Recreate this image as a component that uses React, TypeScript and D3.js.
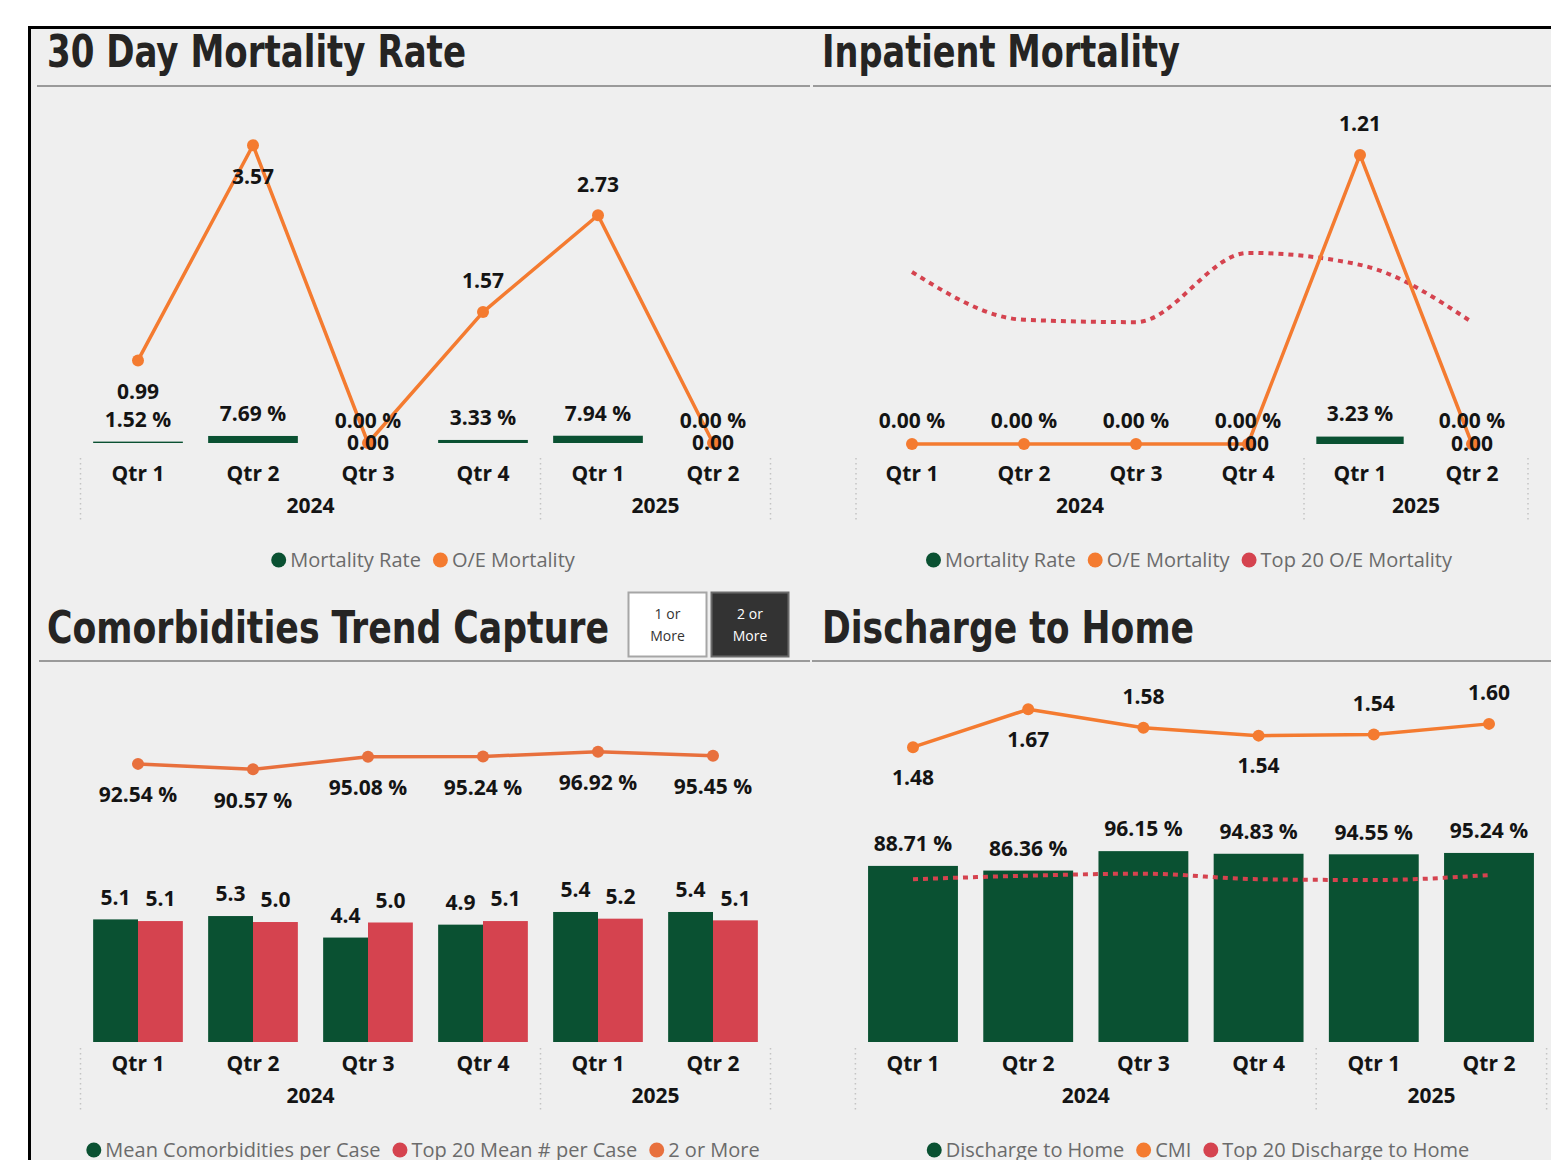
import { useEffect, useRef } from "react";
import * as d3 from "d3";

// periods on the x axis
const quarters = ["Qtr 1", "Qtr 2", "Qtr 3", "Qtr 4", "Qtr 1", "Qtr 2"];
const years = ["2024", "2024", "2024", "2024", "2025", "2025"];

// 30 Day Mortality Rate
const mortalityRate30 = [1.52, 7.69, 0.0, 3.33, 7.94, 0.0];
const oeMortality30 = [0.99, 3.57, 0.0, 1.57, 2.73, 0.0];

// Inpatient Mortality
const mortalityRateInpt = [0.0, 0.0, 0.0, 0.0, 3.23, 0.0];
const oeMortalityInpt = [0.0, 0.0, 0.0, 0.0, 1.21, 0.0];
const top20OeMortality = [0.72, 0.52, 0.51, 0.8, 0.75, 0.51];

// Comorbidities Trend Capture
const meanComorbidities = [5.13, 5.27, 4.37, 4.91, 5.44, 5.44];
const top20MeanPerCase = [5.06, 5.02, 5.0, 5.06, 5.16, 5.09];
const twoOrMore = [92.54, 90.57, 95.08, 95.24, 96.92, 95.45];

// Discharge to Home
const dischargeToHome = [88.71, 86.36, 96.15, 94.83, 94.55, 95.24];
const cmi = [1.48, 1.67, 1.578, 1.538, 1.544, 1.597];
const top20Discharge = [82.0, 83.8, 84.8, 82.0, 81.6, 84.1];

// where the line labels sit relative to their point
const oe30LabelPos = ["below", "below", "middle", "above", "above", "middle"];
const oeInptLabelPos = ["none", "none", "none", "middle", "above", "middle"];
const cmiLabelPos = ["below", "below", "above", "below", "above", "above"];

const GREEN = "#0a5132";
const ORANGE = "#f47b30";
const ORANGE2 = "#e8703d";
const RED = "#d5434f";
const INK = "#141414";
const SANS = "'Segoe UI', 'Open Sans', 'Noto Sans', sans-serif";
const TITLE_FONT = "'DejaVu Sans Condensed', 'DejaVu Sans', sans-serif";

const W = 1551;
const H = 1160;

const keys = quarters.map((q, i) => `${years[i]}-${q}`);

type G = d3.Selection<SVGGElement, unknown, null, undefined>;

const bandX = (r0: number, r1: number) =>
  d3.scaleBand<string>().domain(keys).range([r0, r1]).paddingInner(0.22).paddingOuter(0.11);

const labelOffset = (pos: string) => (pos === "above" ? -31 : pos === "below" ? 31 : 0);

function label(g: G, x: number, y: number, txt: string, size = 21) {
  g.append("text")
    .attr("x", x)
    .attr("y", y)
    .attr("dy", "0.35em")
    .attr("text-anchor", "middle")
    .style("font-family", SANS)
    .style("font-weight", "700")
    .style("font-size", `${size}px`)
    .attr("fill", INK)
    .text(txt);
}

function drawAxis(g: G, x: d3.ScaleBand<string>, qY: number) {
  const bw = x.bandwidth();
  const gap = x.step() - bw;
  keys.forEach((k, i) => label(g, x(k)! + bw / 2, qY, quarters[i]));
  const yrs = Array.from(new Set(years));
  yrs.forEach((yr) => {
    const ks = keys.filter((_, i) => years[i] === yr);
    const a = x(ks[0])! - gap / 2;
    const b = x(ks[ks.length - 1])! + bw + gap / 2;
    label(g, (a + b) / 2, qY + 32, yr);
    g.append("line")
      .attr("x1", a).attr("x2", a)
      .attr("y1", qY - 16).attr("y2", qY + 48)
      .attr("stroke", "#c4c4c4")
      .attr("stroke-width", 1.5)
      .attr("stroke-dasharray", "1.5 3.5");
  });
  const end = x.range()[1];
  g.append("line")
    .attr("x1", end).attr("x2", end)
    .attr("y1", qY - 16).attr("y2", qY + 48)
    .attr("stroke", "#c4c4c4")
    .attr("stroke-width", 1.5)
    .attr("stroke-dasharray", "1.5 3.5");
}

function drawLegend(g: G, items: { label: string; color: string }[], cx: number, cy: number) {
  const lg = g.append("g");
  let x = 0;
  items.forEach((it) => {
    lg.append("circle").attr("cx", x + 7.5).attr("cy", cy).attr("r", 7.5).attr("fill", it.color);
    const t = lg
      .append("text")
      .attr("x", x + 19)
      .attr("y", cy)
      .attr("dy", "0.35em")
      .style("font-family", SANS)
      .style("font-size", "20px")
      .attr("fill", "#6b6b6b")
      .text(it.label);
    const w = (t.node() as SVGTextElement).getComputedTextLength();
    x += w + 31;
  });
  const total = x - 12;
  lg.attr("transform", `translate(${cx - total / 2},0)`);
}

function title(g: G, txt: string, x: number, y: number, len: number) {
  g.append("text")
    .attr("x", x)
    .attr("y", y)
    .attr("textLength", len)
    .attr("lengthAdjust", "spacingAndGlyphs")
    .style("font-family", TITLE_FONT)
    .style("font-weight", "700")
    .style("font-stretch", "condensed")
    .style("font-size", "44px")
    .attr("fill", "#252423")
    .text(txt);
}

function drawLine(g: G, pts: [number, number][], color: string, width: number, dotted = false) {
  const path = g
    .append("path")
    .attr("d", (dotted ? d3.line().curve(d3.curveMonotoneX) : d3.line())(pts))
    .attr("fill", "none")
    .attr("stroke", color)
    .attr("stroke-width", width)
    .attr("stroke-linejoin", "round");
  if (dotted) path.attr("stroke-dasharray", "5 5");
  else
    g.selectAll(null)
      .data(pts)
      .join("circle")
      .attr("cx", (d) => d[0])
      .attr("cy", (d) => d[1])
      .attr("r", 6)
      .attr("fill", color);
}

function draw(svg: d3.Selection<SVGSVGElement, unknown, null, undefined>) {
  svg.append("rect").attr("width", W).attr("height", H).attr("fill", "#fff");
  svg.append("rect").attr("x", 28).attr("y", 26).attr("width", W - 28).attr("height", H - 26).attr("fill", "#efefef");
  svg.append("line").attr("x1", 28).attr("x2", W).attr("y1", 27.5).attr("y2", 27.5).attr("stroke", "#000").attr("stroke-width", 3);
  svg.append("line").attr("x1", 29.5).attr("x2", 29.5).attr("y1", 26).attr("y2", H).attr("stroke", "#000").attr("stroke-width", 3);

  const root = svg.append("g") as unknown as G;

  // titles + separators
  title(root, "30 Day Mortality Rate", 47, 67, 419);
  title(root, "Inpatient Mortality", 822, 67, 358);
  title(root, "Comorbidities Trend Capture", 47, 643, 562);
  title(root, "Discharge to Home", 822, 643, 372);
  const sep = (x1: number, x2: number, y: number) =>
    root.append("line").attr("x1", x1).attr("x2", x2).attr("y1", y).attr("y2", y).attr("stroke", "#9a9a9a").attr("stroke-width", 2);
  sep(37, 810, 86);
  sep(813, W, 86);
  sep(39, 810, 661);
  sep(812, W, 661);

  // slicer buttons
  const btn = (x: number, w: number, fill: string, stroke: string, color: string, line1: string) => {
    root.append("rect").attr("x", x).attr("y", 592.5).attr("width", w).attr("height", 64).attr("fill", fill).attr("stroke", stroke).attr("stroke-width", 2);
    [line1, "More"].forEach((t, i) =>
      root
        .append("text")
        .attr("x", x + w / 2)
        .attr("y", 614 + i * 22)
        .attr("dy", "0.35em")
        .attr("text-anchor", "middle")
        .style("font-family", SANS)
        .style("font-size", "14px")
        .attr("fill", color)
        .text(t)
    );
  };
  btn(628.5, 78, "#fff", "#a6a6a6", "#333", "1 or");
  btn(711.5, 77, "#333", "#6a6a6a", "#fff", "2 or");

  // ---- 30 Day Mortality Rate
  {
    const g = root.append("g") as unknown as G;
    const x = bandX(80.5, 770.5);
    const bw = x.bandwidth();
    const yBar = d3.scaleLinear().domain([0, 375]).range([443, 100]);
    const yLine = d3.scaleLinear().domain([0, 4.1]).range([443, 101]);
    keys.forEach((k, i) => {
      const v = mortalityRate30[i];
      g.append("rect").attr("x", x(k)!).attr("y", yBar(v)).attr("width", bw).attr("height", yBar(0) - yBar(v)).attr("fill", GREEN);
    });
    drawLine(g, keys.map((k, i) => [x(k)! + bw / 2, yLine(oeMortality30[i])]), ORANGE, 3.5);
    keys.forEach((k, i) => {
      const cx = x(k)! + bw / 2;
      label(g, cx, yBar(mortalityRate30[i]) - 22, `${mortalityRate30[i].toFixed(2)} %`);
      label(g, cx, yLine(oeMortality30[i]) + labelOffset(oe30LabelPos[i]), oeMortality30[i].toFixed(2));
    });
    drawAxis(g, x, 474);
    drawLegend(g, [{ label: "Mortality Rate", color: GREEN }, { label: "O/E Mortality", color: ORANGE }], 423, 560);
  }

  // ---- Inpatient Mortality
  {
    const g = root.append("g") as unknown as G;
    const x = bandX(856, 1528);
    const bw = x.bandwidth();
    const yBar = d3.scaleLinear().domain([0, 150]).range([444, 100]);
    const yLine = d3.scaleLinear().domain([0, 1.44]).range([444, 100]);
    keys.forEach((k, i) => {
      const v = mortalityRateInpt[i];
      g.append("rect").attr("x", x(k)!).attr("y", yBar(v)).attr("width", bw).attr("height", yBar(0) - yBar(v)).attr("fill", GREEN);
    });
    drawLine(g, keys.map((k, i) => [x(k)! + bw / 2, yLine(top20OeMortality[i])]), RED, 4, true);
    drawLine(g, keys.map((k, i) => [x(k)! + bw / 2, yLine(oeMortalityInpt[i])]), ORANGE, 3.5);
    keys.forEach((k, i) => {
      const cx = x(k)! + bw / 2;
      label(g, cx, yBar(mortalityRateInpt[i]) - 23, `${mortalityRateInpt[i].toFixed(2)} %`);
      if (oeInptLabelPos[i] !== "none")
        label(g, cx, yLine(oeMortalityInpt[i]) + labelOffset(oeInptLabelPos[i]), oeMortalityInpt[i].toFixed(2));
    });
    drawAxis(g, x, 474);
    drawLegend(
      g,
      [
        { label: "Mortality Rate", color: GREEN },
        { label: "O/E Mortality", color: ORANGE },
        { label: "Top 20 O/E Mortality", color: RED },
      ],
      1189,
      560
    );
  }

  // ---- Comorbidities Trend Capture
  {
    const g = root.append("g") as unknown as G;
    const x = bandX(80.5, 770.5);
    const bw = x.bandwidth();
    const sub = d3.scaleBand<string>().domain(["mean", "top20"]).range([0, bw]);
    const yBar = d3.scaleLinear().domain([0, 6]).range([1042, 898.6]);
    const yLine = d3.scaleLinear().domain([0, 100]).range([1020.4, 743.2]);
    keys.forEach((k, i) => {
      [
        ["mean", meanComorbidities[i], GREEN],
        ["top20", top20MeanPerCase[i], RED],
      ].forEach(([s, v, c]) => {
        const bx = x(k)! + sub(s as string)!;
        g.append("rect").attr("x", bx).attr("y", yBar(v as number)).attr("width", sub.bandwidth()).attr("height", yBar(0) - yBar(v as number)).attr("fill", c as string);
        label(g, bx + sub.bandwidth() / 2, yBar(v as number) - 22, (v as number).toFixed(1));
      });
    });
    drawLine(g, keys.map((k, i) => [x(k)! + bw / 2, yLine(twoOrMore[i])]), ORANGE2, 3.5);
    keys.forEach((k, i) => label(g, x(k)! + bw / 2, yLine(twoOrMore[i]) + 31, `${twoOrMore[i].toFixed(2)} %`));
    drawAxis(g, x, 1064);
    drawLegend(
      g,
      [
        { label: "Mean Comorbidities per Case", color: GREEN },
        { label: "Top 20 Mean # per Case", color: RED },
        { label: "2 or More", color: ORANGE2 },
      ],
      423,
      1150
    );
  }

  // ---- Discharge to Home
  {
    const g = root.append("g") as unknown as G;
    const x = bandX(855.4, 1546.6);
    const bw = x.bandwidth();
    const yBar = d3.scaleLinear().domain([0, 100]).range([1042, 843.5]);
    const yCmi = d3.scaleLinear().domain([0, 2]).range([1042, 643.6]);
    keys.forEach((k, i) => {
      const v = dischargeToHome[i];
      g.append("rect").attr("x", x(k)!).attr("y", yBar(v)).attr("width", bw).attr("height", yBar(0) - yBar(v)).attr("fill", GREEN);
      label(g, x(k)! + bw / 2, yBar(v) - 22, `${v.toFixed(2)} %`);
    });
    drawLine(g, keys.map((k, i) => [x(k)! + bw / 2, yBar(top20Discharge[i])]), RED, 4, true);
    drawLine(g, keys.map((k, i) => [x(k)! + bw / 2, yCmi(cmi[i])]), ORANGE, 3.5);
    keys.forEach((k, i) => label(g, x(k)! + bw / 2, yCmi(cmi[i]) + (cmiLabelPos[i] === "above" ? -31 : 30), cmi[i].toFixed(2)));
    drawAxis(g, x, 1064);
    drawLegend(
      g,
      [
        { label: "Discharge to Home", color: GREEN },
        { label: "CMI", color: ORANGE },
        { label: "Top 20 Discharge to Home", color: RED },
      ],
      1198,
      1150
    );
  }
}

export default function App() {
  const ref = useRef<SVGSVGElement>(null);

  useEffect(() => {
    const svg = d3.select(ref.current!);
    svg.selectAll("*").remove();
    draw(svg as d3.Selection<SVGSVGElement, unknown, null, undefined>);
    return () => {
      svg.selectAll("*").remove();
    };
  }, []);

  return <svg ref={ref} width={W} height={H} style={{ position: "absolute", left: 0, top: 0, display: "block" }} />;
}
